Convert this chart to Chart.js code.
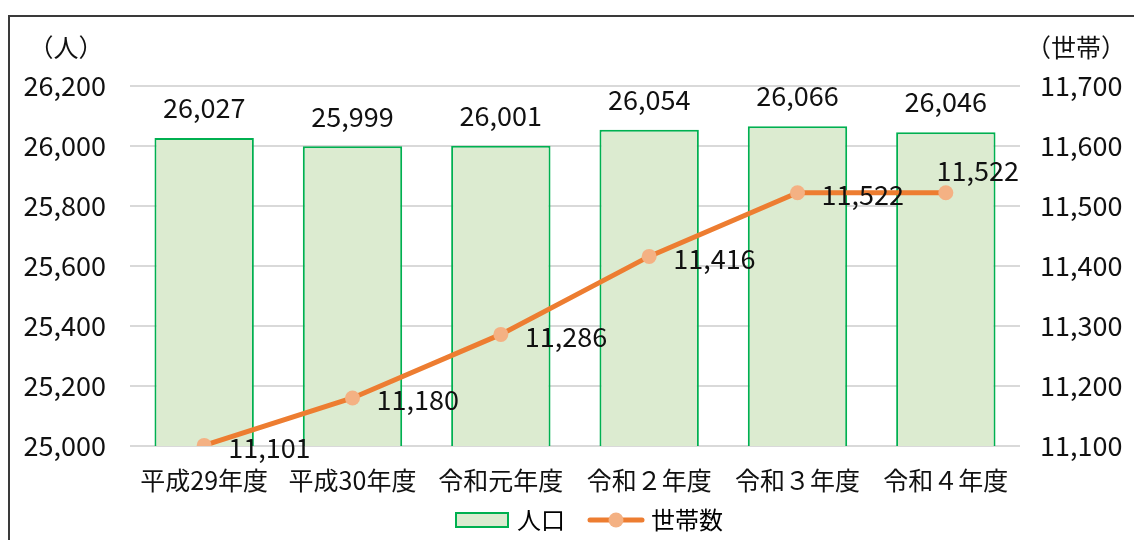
<!DOCTYPE html>
<html>
<head>
<meta charset="utf-8">
<script src="https://cdn.jsdelivr.net/npm/chart.js@4"></script>
<style>
  html, body { margin: 0; padding: 0; background: #ffffff; }
  #wrap { width: 1134px; height: 540px; position: relative; }
</style>
</head>
<body>
<div id="wrap"><canvas id="chart" width="1134" height="540"></canvas></div>
<script>
// ---- data ----
const years = ['平成29年度', '平成30年度', '令和元年度', '令和２年度', '令和３年度', '令和４年度'];
const population = [26027, 25999, 26001, 26054, 26066, 26046];
const households = [11101, 11180, 11286, 11416, 11522, 11522];
const population_ticks = [25000, 25200, 25400, 25600, 25800, 26000, 26200];
const household_ticks = [11100, 11200, 11300, 11400, 11500, 11600, 11700];

const FONT = '"Noto Sans CJK JP", "Noto Sans", sans-serif';

function fmt(v) {
    return v.toString().replace(/\B(?=(\d{3})+(?!\d))/g, ',');
}

// little pictures for the legend
function barIcon() {
    let c = document.createElement('canvas');
    c.width = 54; c.height = 16;
    let g = c.getContext('2d');
    g.fillStyle = '#DCEBD0';
    g.fillRect(1, 1, 52, 14);
    g.strokeStyle = '#00B050';
    g.lineWidth = 2;
    g.strokeRect(1, 1, 52, 14);
    return c;
}
function lineIcon() {
    let c = document.createElement('canvas');
    c.width = 58; c.height = 18;
    let g = c.getContext('2d');
    g.strokeStyle = '#ED7D31';
    g.lineWidth = 5;
    g.lineCap = 'round';
    g.beginPath(); g.moveTo(3, 9); g.lineTo(55, 9); g.stroke();
    g.fillStyle = '#F4B183';
    g.beginPath(); g.arc(29, 9, 7.5, 0, Math.PI * 2); g.fill();
    return c;
}

// frame, axis unit captions and value labels
const extras = {
    id: 'extras',
    afterLayout(chart) {
        // legend sits a little right of the canvas centre, under the x labels
        let lg = chart.legend;
        lg.left += 24;
        lg.right += 24;
        let h = lg.bottom - lg.top;
        lg.top = 480;
        lg.bottom = 480 + h;
    },
    beforeDraw(chart) {
        let ctx = chart.ctx;
        ctx.save();
        ctx.strokeStyle = '#3a3a3a';
        ctx.lineWidth = 2;
        ctx.beginPath();
        ctx.moveTo(9, 540);
        ctx.lineTo(9, 16);
        ctx.lineTo(1134, 16);
        ctx.stroke();
        ctx.restore();
    },
    afterDatasetsDraw(chart) {
        let ctx = chart.ctx;
        ctx.save();
        ctx.fillStyle = '#111111';
        ctx.font = '27px ' + FONT;

        // bar labels
        let bars = chart.getDatasetMeta(0).data;
        ctx.textAlign = 'center';
        ctx.textBaseline = 'middle';
        bars.forEach((b, i) => {
            ctx.fillText(fmt(population[i]), b.x, b.y - 30);
        });

        // line labels
        let pts = chart.getDatasetMeta(1).data;
        pts.forEach((p, i) => {
            if (i === pts.length - 1) {
                ctx.textAlign = 'center';
                ctx.fillText(fmt(households[i]), p.x + 32, p.y - 22);
            } else {
                ctx.textAlign = 'left';
                ctx.fillText(fmt(households[i]), p.x + 24, p.y + 2);
            }
        });

        // unit captions
        ctx.font = '25px ' + FONT;
        ctx.textAlign = 'center';
        ctx.fillText('（人）', 66, 47);
        ctx.fillText('（世帯）', 1076, 47);
        ctx.restore();
    }
};

var chart_context = document.getElementById('chart').getContext('2d');
var chart = new Chart(chart_context, {
    type: 'bar',
    data: {
        labels: years,
        datasets: [{
            type: 'bar',
            label: '人口',
            data: population,
            yAxisID: 'y',
            backgroundColor: '#DCEBD0',
            borderColor: '#00B050',
            borderWidth: 2,
            barPercentage: 0.67,
            categoryPercentage: 1.0,
            order: 2
        }, {
            type: 'line',
            label: '世帯数',
            data: households,
            yAxisID: 'y1',
            borderColor: '#ED7D31',
            borderWidth: 5,
            pointRadius: 7.5,
            pointBackgroundColor: '#F4B183',
            pointBorderColor: '#F4B183',
            pointBorderWidth: 0,
            tension: 0,
            order: 1
        }]
    },
    options: {
        responsive: false,
        animation: false,
        layout: {
            padding: { top: 86, left: 0, right: 0, bottom: -28 }
        },
        scales: {
            x: {
                grid: { display: false, drawTicks: false },
                border: { display: false },
                afterFit: (axis) => { axis.height = 60; },
                ticks: {
                    color: '#111111',
                    padding: 19,
                    font: { size: 25, family: FONT }
                }
            },
            y: {
                position: 'left',
                min: 25000,
                max: 26200,
                afterBuildTicks: (axis) => { axis.ticks = population_ticks.map(v => ({ value: v })); },
                afterFit: (axis) => { axis.width = 130; },
                grid: { color: '#D9D9D9', lineWidth: 2, drawTicks: false },
                border: { display: false },
                ticks: {
                    color: '#111111',
                    padding: 24,
                    font: { size: 27, family: FONT },
                    callback: (v) => fmt(v)
                }
            },
            y1: {
                position: 'right',
                min: 11100,
                max: 11700,
                afterBuildTicks: (axis) => { axis.ticks = household_ticks.map(v => ({ value: v })); },
                afterFit: (axis) => { axis.width = 114; },
                grid: { display: false, drawTicks: false },
                border: { display: false },
                ticks: {
                    color: '#111111',
                    padding: 20,
                    font: { size: 27, family: FONT },
                    callback: (v) => fmt(v)
                }
            }
        },
        plugins: {
            legend: {
                display: true,
                position: 'bottom',
                labels: {
                    color: '#111111',
                    font: { size: 24, family: FONT },
                    usePointStyle: true,
                    pointStyleWidth: 46,
                    padding: 28,
                    generateLabels: function (chart) {
                        return [
                            { text: '人口', pointStyle: barIcon(), datasetIndex: 0, hidden: false, lineWidth: 0, fillStyle: '#DCEBD0', strokeStyle: '#00B050' },
                            { text: '世帯数', pointStyle: lineIcon(), datasetIndex: 1, hidden: false, lineWidth: 0, fillStyle: '#F4B183', strokeStyle: '#ED7D31' }
                        ];
                    }
                }
            },
            tooltip: { enabled: false }
        }
    },
    plugins: [extras]
});
</script>
</body>
</html>
